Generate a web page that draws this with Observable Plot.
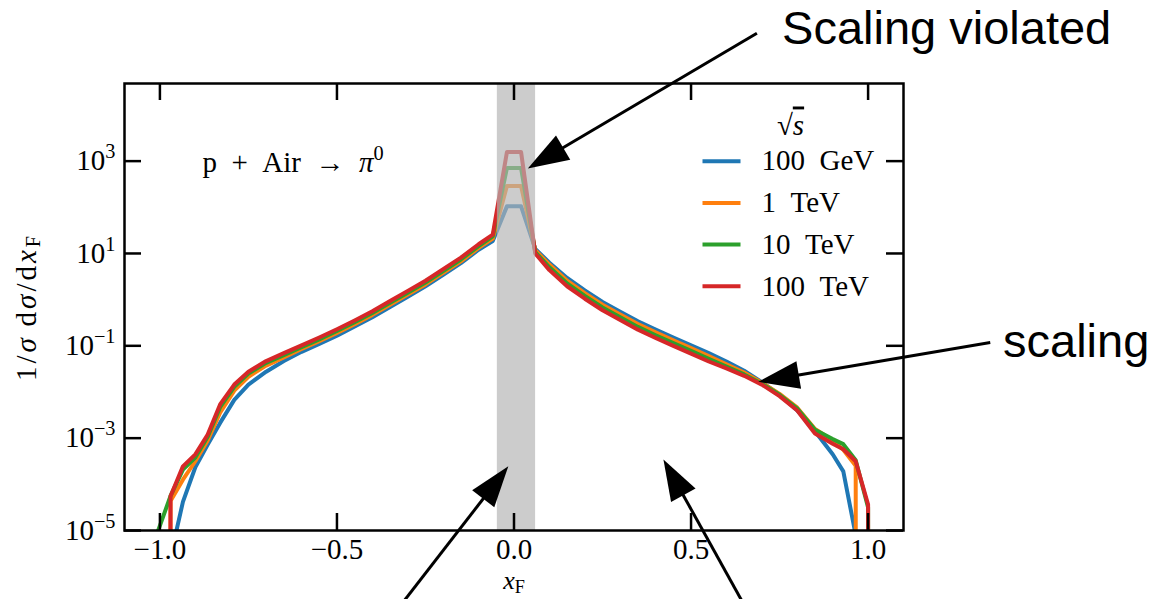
<!DOCTYPE html>
<html><head><meta charset="utf-8">
<script src="https://cdn.jsdelivr.net/npm/d3@7"></script>
<script src="https://cdn.jsdelivr.net/npm/@observablehq/plot@0.6"></script>
<style>
html,body{margin:0;padding:0;background:#fff;}
#chart{width:1154px;height:599px;overflow:hidden;}
</style></head>
<body><div id="chart"></div>
<script>
// ---------------- data ----------------
const xF = [-1.01, -0.97, -0.935, -0.9, -0.865, -0.83, -0.79, -0.75, -0.7, -0.65, -0.6, -0.55, -0.5, -0.45, -0.4, -0.35, -0.3, -0.25, -0.2, -0.15, -0.1, -0.06, -0.02,
            0.02, 0.06, 0.1, 0.15, 0.2, 0.25, 0.3, 0.35, 0.4, 0.45, 0.5, 0.55, 0.6, 0.65, 0.7, 0.75, 0.8, 0.85, 0.9, 0.93, 0.965, 1.0, 1.04];
// log10 of 1/sigma dsigma/dxF ; -Infinity = zero (clipped on a log axis), null = no point
const log10_100GeV = [-Infinity, -5.57, -4.38, -3.63, -3.14, -2.67, -2.17, -1.84, -1.56, -1.33, -1.13, -0.96, -0.78, -0.58, -0.38, -0.16, 0.06, 0.29, 0.54, 0.79, 1.08, 1.27, 2.02,
                      2.02, 1.10, 0.80, 0.47, 0.20, -0.05, -0.26, -0.47, -0.65, -0.82, -0.99, -1.16, -1.34, -1.54, -1.79, -2.06, -2.40, -2.85, -3.35, -3.72, -5.10, -Infinity, null];
const log10_1TeV   = [-Infinity, -4.36, -3.90, -3.50, -3.05, -2.45, -1.97, -1.67, -1.43, -1.25, -1.07, -0.90, -0.72, -0.53, -0.33, -0.11, 0.11, 0.33, 0.58, 0.83, 1.12, 1.32, 2.46,
                      2.46, 1.07, 0.76, 0.41, 0.14, -0.11, -0.32, -0.53, -0.71, -0.88, -1.05, -1.22, -1.40, -1.58, -1.80, -2.04, -2.34, -2.80, -3.05, -3.25, -3.60, -Infinity, null];
const log10_10TeV  = [-5.11, -4.25, -3.68, -3.42, -2.97, -2.33, -1.89, -1.60, -1.37, -1.20, -1.03, -0.86, -0.68, -0.49, -0.29, -0.07, 0.15, 0.37, 0.62, 0.87, 1.16, 1.37, 2.85,
                      2.85, 1.03, 0.70, 0.35, 0.08, -0.17, -0.38, -0.59, -0.77, -0.94, -1.11, -1.28, -1.45, -1.62, -1.82, -2.06, -2.36, -2.82, -3.02, -3.13, -3.48, -4.50, -Infinity];
const log10_100TeV = [-Infinity, -4.26, -3.61, -3.35, -2.92, -2.27, -1.84, -1.56, -1.33, -1.16, -0.99, -0.82, -0.64, -0.45, -0.25, -0.03, 0.19, 0.41, 0.66, 0.91, 1.20, 1.41, 3.195,
                      3.195, 1.00, 0.64, 0.29, 0.02, -0.23, -0.44, -0.65, -0.83, -1.00, -1.17, -1.34, -1.49, -1.65, -1.84, -2.09, -2.40, -2.90, -3.12, -3.24, -3.50, -4.44, -Infinity];
const seriesNames  = ["100 GeV", "1 TeV", "10 TeV", "100 TeV"];
const seriesColors = ["#1f77b4", "#ff7f0e", "#2ca02c", "#d62728"];
const xTicks = [-1, -0.5, 0, 0.5, 1];
const xTickLabels = ["−1.0", "−0.5", "0.0", "0.5", "1.0"];
const yTicks = [1e-5, 1e-3, 1e-1, 1e1, 1e3];
const yTickLabels = ["10^{−5}", "10^{−3}", "10^{−1}", "10^{1}", "10^{3}"];
const violationBand = [{x1: -0.047, x2: 0.061}];
const reactionLabel = [{x: -0.88, logy: 2.76, text: "p\u2002+\u2002Air\u2002→\u2002$π$^{0}"}];
const calloutTexts = [
  {x: 0.757, logy: 5.53, text: "Scaling violated"},
  {x: 1.381, logy: -1.24, text: "scaling"}
];
const calloutArrows = [
  {x1: 0.686, logy1: 5.77, x2: 0.039, logy2: 2.84},
  {x1: 1.345, logy1: -0.93, x2: 0.690, logy2: -1.78},
  {x1: -0.311, logy1: -6.53, x2: -0.016, logy2: -3.61},
  {x1: 0.644, logy1: -6.53, x2: 0.422, logy2: -3.46}
];

// ---------------- layout ----------------
const W = 1154, H = 599, mL = 124, mR = 251, mT = 83, mB = 69;
const xDomain = [-1.1, 1.1], yDomain = [1e-5, 4.8e4];
const frameW = W - mL - mR, frameH = H - mT - mB;
const tickLen = 17;
const xs = d3.scaleLinear(xDomain, [mL, W - mR]);
const ys = d3.scaleLog(yDomain, [H - mB, mT]);
const FS = 29;

// ---------------- build table ----------------
const logSeries = [log10_100GeV, log10_1TeV, log10_10TeV, log10_100TeV];
const CLIP = 1e-300; // zero values clipped like a log axis does
const rows = [];
logSeries.forEach((arr, s) => arr.forEach((e, i) => {
  if (e === null) return;
  const v = 10 ** e;
  rows.push({x: xF[i], y: v > 0 ? v : CLIP, series: seriesNames[s]});
}));

// legend layout (pixel offsets inside the frame)
const legendItems = seriesNames.map((name, i) => {
  const py = mT + 77.7 + i * 41.7;
  return {name, y: ys.invert(py), xa: xs.invert(W - mR - 201), xb: xs.invert(W - mR - 163), xt: xs.invert(W - mR - 142)};
});
const legendTitle = [{x: xs.invert(790), y: ys.invert(134), text: "√$s$"}];

// arrows
const HEAD_L = 41, HEAD_W = 28;
const arrowData = calloutArrows.map(a => {
  const y1 = 10 ** a.logy1, y2 = 10 ** a.logy2;
  const p1 = [xs(a.x1), ys(y1)], p2 = [xs(a.x2), ys(y2)];
  const dx = p2[0] - p1[0], dy = p2[1] - p1[1], len = Math.hypot(dx, dy);
  const ux = dx / len, uy = dy / len;
  const end = [p2[0] - ux * HEAD_L * 0.6, p2[1] - uy * HEAD_L * 0.6];
  return {x1: a.x1, y1, x2: a.x2, y2, sx2: xs.invert(end[0]), sy2: ys.invert(end[1]), ux, uy};
});
function headSymbol(ux, uy) {
  return {draw(ctx) {
    const bx = -HEAD_L * ux, by = -HEAD_L * uy, h = HEAD_W / 2;
    ctx.moveTo(0, 0);
    ctx.lineTo(bx - h * uy, by + h * ux);
    ctx.lineTo(bx + h * uy, by - h * ux);
    ctx.closePath();
  }};
}

const black = "black";
const chart = Plot.plot({
  width: W, height: H,
  marginLeft: mL, marginRight: mR, marginTop: mT, marginBottom: mB,
  style: {fontFamily: "'Liberation Serif', serif", fontSize: FS + "px", background: "white", color: "black", overflow: "visible"},
  x: {domain: xDomain, axis: null},
  y: {type: "log", domain: yDomain, axis: null},
  color: {domain: seriesNames, range: seriesColors},
  marks: [
    Plot.line(rows, {x: "x", y: "y", z: "series", stroke: "series", strokeWidth: 4, strokeLinejoin: "round", clip: true}),
    Plot.rect(violationBand, {x1: "x1", x2: "x2", fill: "#b4b4b4", fillOpacity: 0.68}),
    Plot.frame({stroke: black, strokeWidth: 2.5}),
    Plot.tickX(xTicks, {x: d => d, insetTop: frameH - tickLen, stroke: black, strokeWidth: 2.5}),
    Plot.tickX(xTicks, {x: d => d, insetBottom: frameH - tickLen, stroke: black, strokeWidth: 2.5}),
    Plot.tickY(yTicks, {y: d => d, insetRight: frameW - tickLen, stroke: black, strokeWidth: 2.5}),
    Plot.tickY(yTicks, {y: d => d, insetLeft: frameW - tickLen, stroke: black, strokeWidth: 2.5}),
    Plot.text(xTicks, {x: d => d, text: (d, i) => xTickLabels[i], frameAnchor: "bottom", lineAnchor: "top", dy: 8, fontSize: FS}),
    Plot.text(yTicks, {y: d => d, text: (d, i) => yTickLabels[i], frameAnchor: "left", textAnchor: "end", lineAnchor: "middle", dx: -9, fontSize: FS}),
    Plot.text(["$x$_{F}"], {text: d => d, frameAnchor: "bottom", lineAnchor: "bottom", dy: 58, fontSize: 26}),
    Plot.text(["1/$σ$\u2009d$σ$/d$x$_{F}"], {text: d => d, frameAnchor: "left", rotate: -90, textAnchor: "middle", lineAnchor: "middle", dx: -98, fontSize: FS}),
    Plot.text(reactionLabel, {x: "x", y: d => 10 ** d.logy, text: "text", textAnchor: "start", lineAnchor: "bottom", fontSize: FS}),
    Plot.link(legendItems, {x1: "xa", x2: "xb", y1: "y", y2: "y", stroke: "name", strokeWidth: 4}),
    Plot.text(legendItems, {x: "xt", y: "y", text: d => d.name.replace(" ", "\u2002"), textAnchor: "start", lineAnchor: "middle", fontSize: FS}),
    Plot.text(legendTitle, {x: "x", y: "y", text: "text", textAnchor: "middle", lineAnchor: "bottom", fontSize: FS}),
    Plot.link(arrowData, {x1: "x1", y1: "y1", x2: "sx2", y2: "sy2", stroke: black, strokeWidth: 3}),
    ...arrowData.map(a => Plot.dot([a], {x: "x2", y: "y2", symbol: headSymbol(a.ux, a.uy), fill: black, stroke: "none"})),
    Plot.text(calloutTexts, {x: "x", y: d => 10 ** d.logy, text: "text", textAnchor: "start", lineAnchor: "bottom", fontFamily: "'Liberation Sans', Arial, sans-serif", fontSize: 47})
  ]
});
document.getElementById("chart").appendChild(chart);

// rich text: ^{..} superscript, _{..} subscript, $..$ italic
const NS = "http://www.w3.org/2000/svg";
chart.querySelectorAll("text").forEach(t => {
  const s = t.textContent;
  if (!/[\^_]\{|\$/.test(s)) return;
  const fs = parseFloat(getComputedStyle(t).fontSize) || FS;
  if (s.includes("d$σ$")) t.setAttribute("letter-spacing", "3");
  while (t.firstChild) t.removeChild(t.firstChild);
  const re = /\^\{([^}]*)\}|_\{([^}]*)\}|\$([^$]*)\$|([^$^_]+)/g;
  let m;
  while ((m = re.exec(s))) {
    const sp = document.createElementNS(NS, "tspan");
    if (m[1] !== undefined) {
      sp.textContent = m[1];
      sp.setAttribute("font-size", (0.7 * fs).toFixed(1));
      sp.setAttribute("baseline-shift", (0.42 * fs).toFixed(1));
    } else if (m[2] !== undefined) {
      sp.textContent = m[2];
      sp.setAttribute("font-size", (0.7 * fs).toFixed(1));
      sp.setAttribute("baseline-shift", (-0.15 * fs).toFixed(1));
    } else if (m[3] !== undefined) {
      sp.textContent = m[3];
      sp.setAttribute("font-style", "italic");
      if (m[3] === "s") sp.setAttribute("text-decoration", "overline");
    } else {
      sp.textContent = m[4];
    }
    t.appendChild(sp);
  }
});
</script>
</body></html>
